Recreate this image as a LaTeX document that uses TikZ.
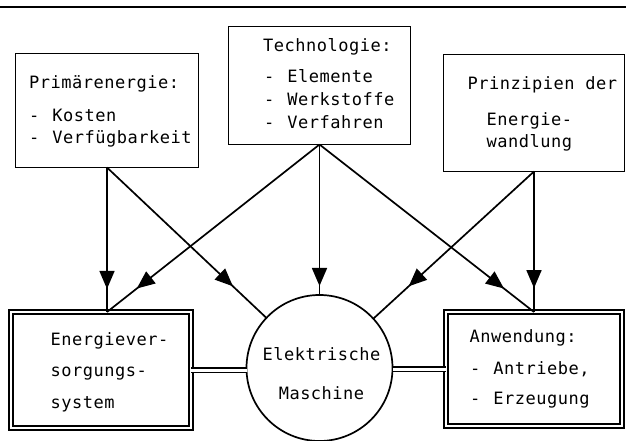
\documentclass[tikz,border=0pt]{standalone}
\usepackage{fontspec}
\newfontfamily\lbl{DejaVu Sans Mono}[LetterSpace=3]
\usetikzlibrary{arrows.meta,decorations.markings}
\tikzset{
  box/.style={draw, line width=1.8pt, inner sep=0pt, outer sep=0pt},
  dblbox/.style={draw, double, line width=1.6pt, double distance=2.8pt, inner sep=0pt, outer sep=0pt},
  dblline/.style={double, line width=1.5pt, double distance=3pt},
  conn/.style={line width=1.7pt},
  arr/.style={conn, decoration={markings, mark=at position #1 with {\arrow{Triangle[length=18pt,width=15pt]}}}, postaction={decorate}},
  txt/.style={anchor=base west, inner sep=0pt, font=\lbl\fontsize{17}{20}\selectfont},
  ctxt/.style={anchor=base, inner sep=0pt, font=\lbl\fontsize{17}{20}\selectfont}
}
\newcommand{\dsh}{-\hspace{13pt}}
\begin{document}
\begin{tikzpicture}[x=1pt,y=-1pt]
\useasboundingbox (0,0) rectangle (626,441);
% top rule
\coordinate (r1) at (0,7);
\coordinate (r2) at (626,7);
\draw[line width=1.5pt] (r1) -- (r2);
% boxes
\node[box, minimum width=183pt, minimum height=114pt] (P) at (107,110.5) {};
\node[box, minimum width=182pt, minimum height=118pt] (T) at (319.5,85.5) {};
\node[box, minimum width=181pt, minimum height=117pt] (Z) at (534,113) {};
\node[dblbox, minimum width=180pt, minimum height=116pt] (E) at (101,370) {};
\node[dblbox, minimum width=176pt, minimum height=114pt] (A) at (534,369) {};
\node[draw, circle, line width=1.7pt, minimum size=146pt, inner sep=0pt, outer sep=0pt] (C) at (319.5,368) {};
% texts
\node[txt] (p1) at (29,89) {Primärenergie:};
\node[txt] (p2) at (29,121.7) {\dsh Kosten};
\node[txt] (p3) at (29,143.3) {\dsh Verfügbarkeit};
\node[txt] (t1) at (263,51.7) {Technologie:};
\node[txt] (t2) at (264,82.7) {\dsh Elemente};
\node[txt] (t3) at (264,106) {\dsh Werkstoffe};
\node[txt] (t4) at (264,128.3) {\dsh Verfahren};
\node[txt] (z1) at (467.5,90) {Prinzipien der};
\node[txt] (z2) at (486.5,125) {Energie-};
\node[txt] (z3) at (486.5,147.3) {wandlung};
\node[txt] (e1) at (50.5,345) {Energiever-};
\node[txt] (e2) at (50.5,376.7) {sorgungs-};
\node[txt] (e3) at (50.5,408.3) {system};
\node[ctxt] (c1) at (321.5,360) {Elektrische};
\node[ctxt] (c2) at (321.5,399.3) {Maschine};
\node[txt] (a1) at (469.5,342.7) {Anwendung:};
\node[txt] (a2) at (470,374) {\dsh Antriebe,};
\node[txt] (a3) at (470,404) {\dsh Erzeugung};
% arrows
\draw[arr=0.84] (P.south) -- (P.south |- E.north);
\draw[arr=0.79] (P.south) -- (C);
\draw[arr=0.86] (T.south) -- (P.south |- E.north);
\draw[arr=0.94] (T.south) -- (C.north);
\draw[arr=0.86] (T.south) -- (A.north);
\draw[arr=0.78] (Z.south) -- (C);
\draw[arr=0.83] (Z.south) -- (A.north);
% double connectors
\draw[dblline] (E.east) -- (E.east -| C.west);
\draw[dblline] (A.west) -- (A.west -| C.east);
\end{tikzpicture}
\end{document}
